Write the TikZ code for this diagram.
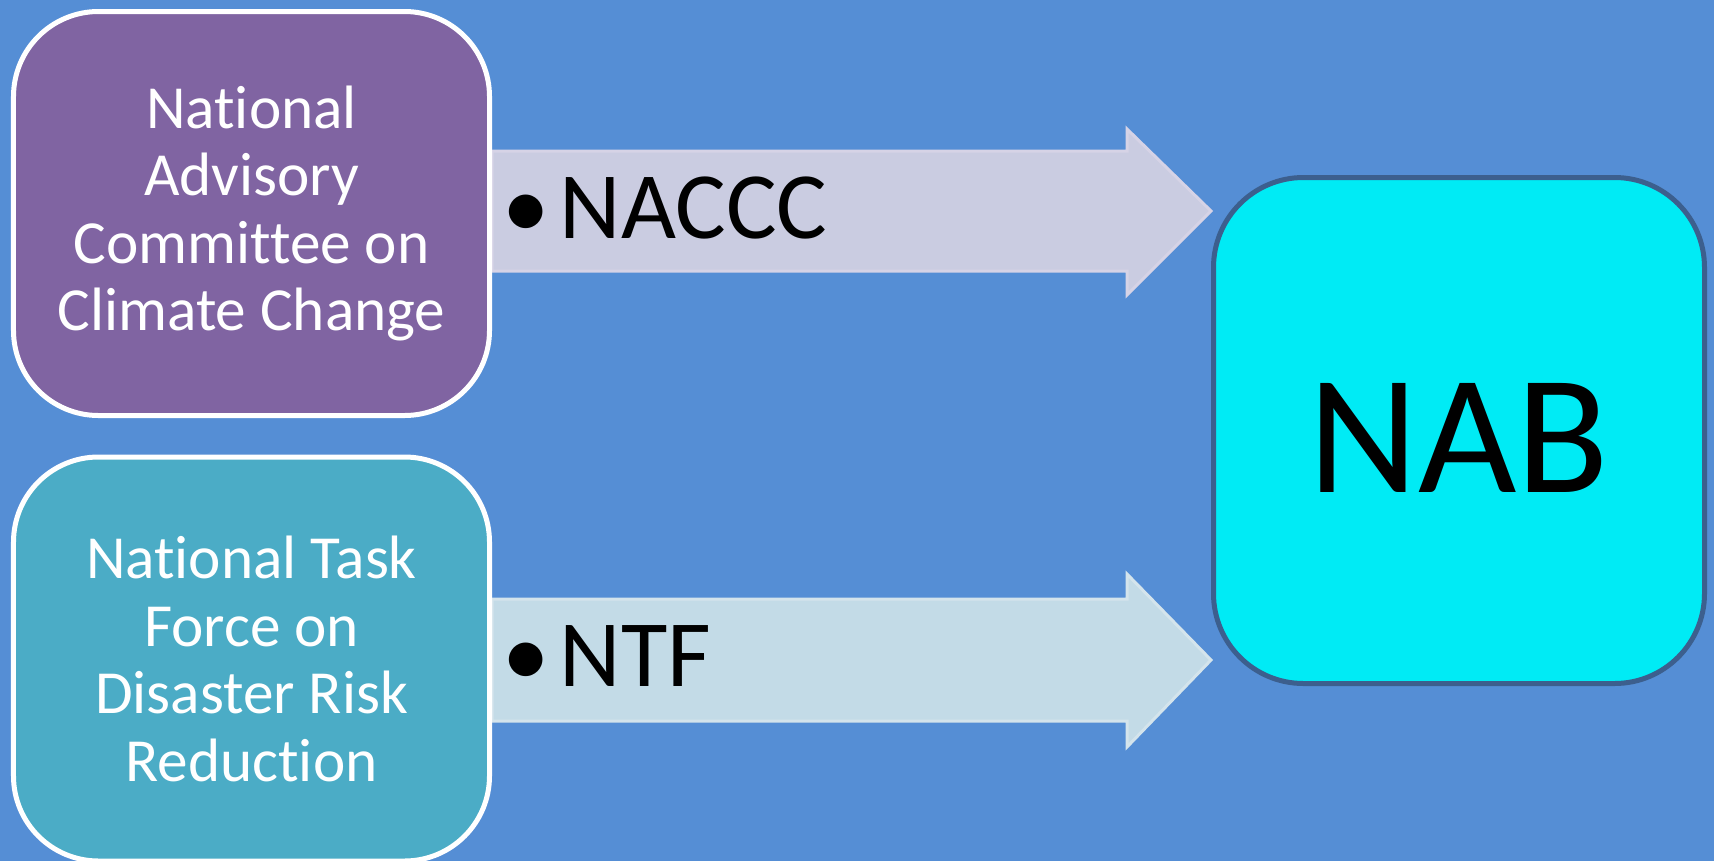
\documentclass[tikz,border=0pt]{standalone}
\usepackage{fontspec}
\setmainfont{Carlito}[RawFeature={-liga;-clig;-dlig;-calt}]
\definecolor{bgblue}{HTML}{558ED5}
\definecolor{purp}{HTML}{8064A2}
\definecolor{aqua}{HTML}{4BACC6}
\definecolor{cyanbox}{HTML}{00EBF5}
\definecolor{cyanedge}{HTML}{3C5F8E}
\definecolor{arrAfill}{HTML}{CACCE1}
\definecolor{arrAedge}{HTML}{D6D3E6}
\definecolor{arrBfill}{HTML}{C3DBE7}
\definecolor{arrBedge}{HTML}{D4E4EC}
\pgfdeclarelayer{back}
\pgfsetlayers{back,main}
\begin{document}
\begin{tikzpicture}[x=0.4pt,y=-0.4pt,
  srcbox/.style={rectangle, draw=white, line width=2pt, rounded corners=34pt,
    minimum width=190.4pt, minimum height=161.6pt, inner sep=0pt,
    text=white, align=center, font=\fontsize{24.5}{27}\selectfont},
  nabbox/.style={rectangle, draw=cyanedge, fill=cyanbox, line width=2pt, rounded corners=36pt,
    minimum width=196.4pt, minimum height=202.4pt, inner sep=0pt,
    text height=49.4pt, text depth=0pt, font=\fontsize{68}{80}\selectfont},
  blockarrow/.style={line width=1.2pt, line join=miter},
  arrlabel/.style={anchor=base west, inner sep=0pt, font=\fontsize{38}{44}\selectfont}]
\useasboundingbox (0,0) rectangle (1714,861);
\node[srcbox, fill=purp] (ncc) at (251.5,213.5) {National\\Advisory\\Committee on\\Climate Change};
\node[srcbox, fill=aqua] (ntf) at (251.5,659) {National Task\\Force on\\Disaster Risk\\Reduction};
\node[nabbox] (nab) at (1459,430.5) {NAB};
\coordinate (h) at ([xshift=-33.6pt]nab.west);
\node[arrlabel] (l1) at (502,238) {\textbullet\hspace{4pt}NACCC};
\node[arrlabel] (l2) at (502,686) {\textbullet\hspace{4pt}NTF};
\begin{pgfonlayer}{back}
\fill[bgblue] (0,0) rectangle (1714,861);
\draw[blockarrow, draw=arrAedge, fill=arrAfill]
  (ncc.east |- 0,151) -- (h |- 0,151) -- (h |- 0,129) -- (nab.west |- 0,211)
  -- (h |- 0,295) -- (h |- 0,271) -- (ncc.east |- 0,271) -- cycle;
\draw[blockarrow, draw=arrBedge, fill=arrBfill]
  (ntf.east |- 0,599) -- (h |- 0,599) -- (h |- 0,574) -- (nab.west |- 0,660)
  -- (h |- 0,747) -- (h |- 0,721) -- (ntf.east |- 0,721) -- cycle;
\end{pgfonlayer}
\end{tikzpicture}
\end{document}
